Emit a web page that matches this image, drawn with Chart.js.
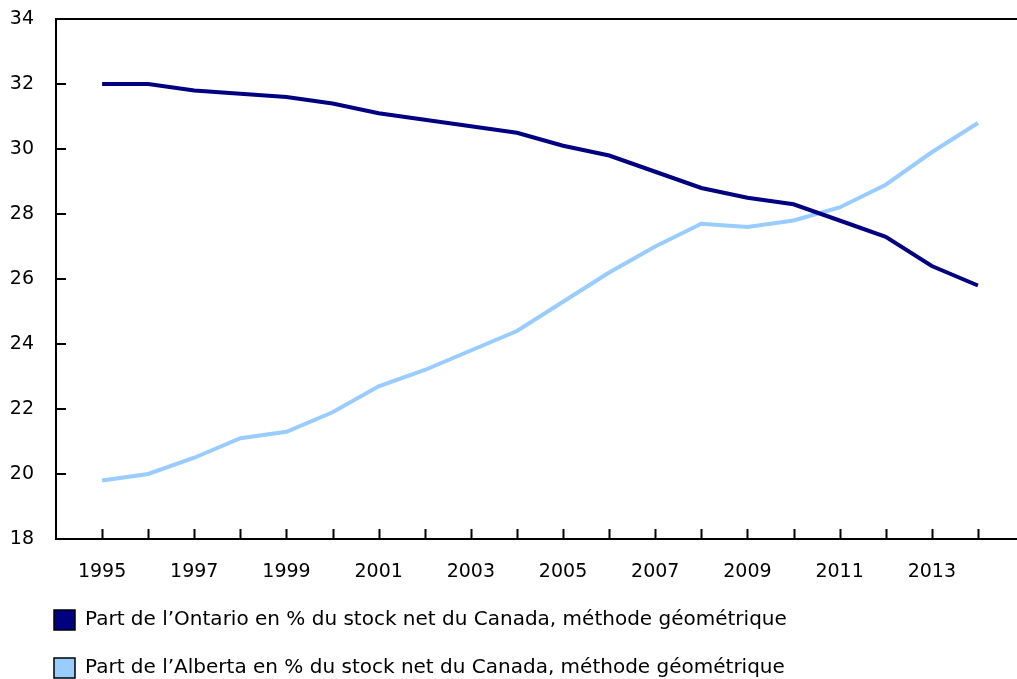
<!DOCTYPE html>
<html>
<head>
<meta charset="utf-8">
<script src="https://cdn.jsdelivr.net/npm/chart.js@4"></script>
<style>
  html, body { margin: 0; padding: 0; background: #fff; overflow: hidden; }
  .wrap { width: 1030px; height: 690px; position: relative; }
</style>
</head>
<body>
<div class="wrap"><canvas id="myChart"></canvas></div>
<script>
'use strict';
// années
const years = [1995, 1996, 1997, 1998, 1999, 2000, 2001, 2002, 2003, 2004,
  2005, 2006, 2007, 2008, 2009, 2010, 2011, 2012, 2013, 2014];
// part de l'Ontario (%)
const ontario = [32.0, 32.0, 31.8, 31.7, 31.6, 31.4, 31.1, 30.9, 30.7, 30.5,
  30.1, 29.8, 29.3, 28.8, 28.5, 28.3, 27.8, 27.3, 26.4, 25.8];
// part de l'Alberta (%)
const alberta = [19.8, 20.0, 20.5, 21.1, 21.3, 21.9, 22.7, 23.2, 23.8, 24.4,
  25.3, 26.2, 27.0, 27.7, 27.6, 27.8, 28.2, 28.9, 29.9, 30.8];
// étiquettes de l'axe des x
const xTickLabels = ['1995', '1997', '1999', '2001', '2003', '2005', '2007', '2009', '2011', '2013'];
const seriesNames = [
  'Part de l\u2019Ontario en % du stock net du Canada, m\u00e9thode g\u00e9om\u00e9trique',
  'Part de l\u2019Alberta en % du stock net du Canada, m\u00e9thode g\u00e9om\u00e9trique'
];

const toPoints = (arr) => arr.map((v, i) => ({ x: years[i], y: v }));

Chart.defaults.font.family = '"DejaVu Sans", Verdana, sans-serif';
Chart.defaults.font.size = 19;
Chart.defaults.color = '#000';

// petites graduations vers l'intérieur + bordure du haut
const innerTicks = {
  id: 'innerTicks',
  afterLayout(chart) {
    // décale la légende comme dans l'original
    chart.legend.left = 26;
  },
  afterDraw(chart) {
    const { ctx, chartArea, scales } = chart;
    ctx.save();
    ctx.strokeStyle = '#000';
    ctx.lineWidth = 2;
    ctx.beginPath();
    years.forEach((yr) => {
      const px = Math.round(scales.x.getPixelForValue(yr)) + 0.5;
      ctx.moveTo(px, chartArea.bottom);
      ctx.lineTo(px, chartArea.bottom - 10);
    });
    scales.y.ticks.forEach((t) => {
      if (t.value <= scales.y.min || t.value >= scales.y.max) return;
      const py = Math.round(scales.y.getPixelForValue(t.value));
      ctx.moveTo(chartArea.left, py);
      ctx.lineTo(chartArea.left + 10, py);
    });
    ctx.moveTo(chartArea.left - 1, chartArea.top);
    ctx.lineTo(chartArea.right, chartArea.top);
    ctx.stroke();
    ctx.restore();
  }
};

const ctx = document.getElementById('myChart').getContext('2d');
const chart = new Chart(ctx, {
  type: 'line',
  data: {
    datasets: [{
      label: seriesNames[0],
      data: toPoints(ontario),
      borderColor: '#000080',
      backgroundColor: '#000080',
      borderWidth: 4,
      pointRadius: 0,
      tension: 0
    }, {
      label: seriesNames[1],
      data: toPoints(alberta),
      borderColor: '#99ccff',
      backgroundColor: '#99ccff',
      borderWidth: 4,
      pointRadius: 0,
      tension: 0
    }]
  },
  options: {
    responsive: true,
    maintainAspectRatio: false,
    animation: false,
    layout: {
      padding: { left: 0, right: 6, top: 19, bottom: 2 }
    },
    plugins: {
      tooltip: { enabled: false },
      legend: {
        position: 'bottom',
        align: 'start',
        labels: {
          boxWidth: 21,
          boxHeight: 20,
          padding: 28,
          font: { size: 20 },
          generateLabels(c) {
            const items = Chart.defaults.plugins.legend.labels.generateLabels(c);
            items.forEach((it) => {
              it.strokeStyle = '#000';
              it.lineWidth = 1.5;
            });
            return items;
          }
        }
      }
    },
    scales: {
      x: {
        type: 'linear',
        min: 1994,
        max: 2015,
        grid: { display: false, drawTicks: false },
        border: { display: true, color: '#000', width: 2 },
        ticks: {
          stepSize: 1,
          autoSkip: false,
          maxRotation: 0,
          padding: 22,
          callback: (v) => (xTickLabels.includes(String(v)) ? String(v) : '')
        },
        afterFit: (s) => { s.height = 43; s.paddingLeft = 0; s.paddingRight = 0; }
      },
      y: {
        min: 18,
        max: 34,
        grid: { display: false, drawTicks: false },
        border: { display: true, color: '#000', width: 2 },
        ticks: { stepSize: 2, padding: 22 },
        afterFit: (s) => { s.width = 56; s.paddingTop = 0; s.paddingBottom = 0; }
      }
    }
  },
  plugins: [innerTicks]
});
</script>
</body>
</html>
